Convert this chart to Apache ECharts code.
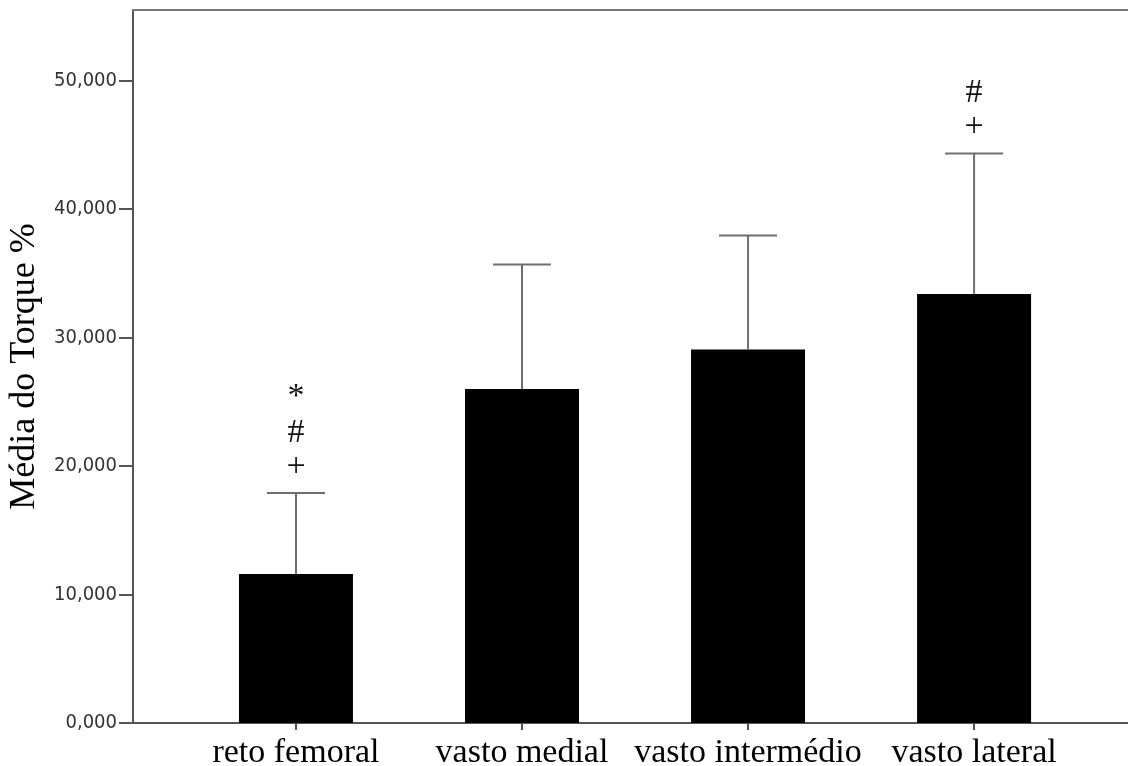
<!DOCTYPE html>
<html><head><meta charset="utf-8">
<script src="https://cdn.jsdelivr.net/npm/echarts@6/dist/echarts.min.js"></script>
<style>html,body{margin:0;padding:0;background:#fff}#c{width:1128px;height:766px}</style>
</head><body><div id="c"></div>
<script>
const categories = ['reto femoral', 'vasto medial', 'vasto intermédio', 'vasto lateral'];
const means = [11.6, 26.0, 29.08, 33.4];
const errorTops = [17.91, 35.68, 37.94, 44.33];
const annotations = [['+', '#', '*'], [], [], ['+', '#']];
const yTicks = [0, 10, 20, 30, 40, 50];
const xTicks = categories.map((c, i) => i);

const annOffsets = [26, 60, 96];
const axisColor = '#555';

const chart = echarts.init(document.getElementById('c'), null, {renderer: 'canvas'});
chart.setOption({
  backgroundColor: '#fff',
  animation: false,
  grid: {left: 133, right: 0, top: 10, bottom: 43, containLabel: false, outerBoundsMode: 'none'},
  xAxis: [{
    type: 'value', position: 'bottom', min: -0.721, max: 3.681,
    splitLine: {show: false},
    axisLine: {show: true, onZero: false, lineStyle: {color: axisColor, width: 2}},
    axisTick: {show: true, customValues: xTicks, length: 7, lineStyle: {color: axisColor, width: 2}},
    axisLabel: {customValues: xTicks, formatter: v => categories[Math.round(v)] || '',
      fontFamily: '"Liberation Serif", serif', fontSize: 34, color: '#000', margin: 13}
  }, {
    type: 'value', position: 'top', min: -0.721, max: 3.681,
    splitLine: {show: false},
    axisLine: {show: true, onZero: false, lineStyle: {color: '#777', width: 2}},
    axisTick: {show: false}, axisLabel: {show: false}
  }],
  yAxis: {
    type: 'value', min: 0, max: 55.5,
    name: 'Média do Torque %', nameLocation: 'middle', nameGap: 90,
    nameTextStyle: {fontFamily: '"Liberation Serif", serif', fontSize: 36, color: '#000'},
    splitLine: {show: false},
    axisLine: {show: true, onZero: false, lineStyle: {color: axisColor, width: 2}},
    axisTick: {show: true, customValues: yTicks, length: 14, lineStyle: {color: axisColor, width: 2}},
    axisLabel: {customValues: yTicks, formatter: v => v.toFixed(3).replace('.', ','),
      fontFamily: '"DejaVu Sans Condensed", "DejaVu Sans", sans-serif', fontSize: 20, color: '#333', margin: 16}
  },
  series: [{
    type: 'bar', xAxisIndex: 0,
    data: categories.map((c, i) => [i, means[i]]),
    barWidth: 114,
    itemStyle: {color: '#000'}
  }, {
    type: 'custom', xAxisIndex: 0, z: 3,
    data: categories.map((c, i) => [i, means[i], errorTops[i]]),
    renderItem: function (params, api) {
      const i = api.value(0);
      const base = api.coord([i, api.value(1)]);
      const top = api.coord([i, api.value(2)]);
      const st = {stroke: '#6e6e6e', lineWidth: 2};
      const children = [
        {type: 'line', shape: {x1: top[0], y1: base[1], x2: top[0], y2: top[1]}, style: st},
        {type: 'line', shape: {x1: top[0] - 29, y1: top[1], x2: top[0] + 29, y2: top[1]}, style: st}
      ];
      annotations[i].forEach((s, k) => {
        children.push({type: 'text', x: top[0], y: top[1] - annOffsets[k],
          style: {text: s, fill: '#111', fontSize: 34, fontFamily: '"Liberation Serif", serif',
            align: 'center', verticalAlign: 'middle'}});
      });
      return {type: 'group', children: children};
    }
  }]
});
</script></body></html>
